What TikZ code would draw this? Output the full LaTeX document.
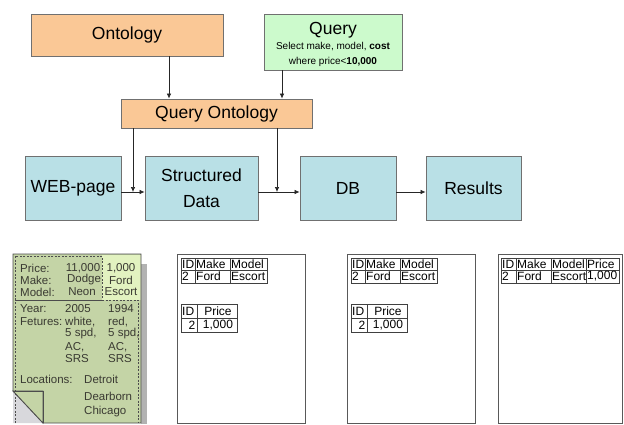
\documentclass[tikz,border=0pt]{standalone}
\usepackage{fontspec}
\setmainfont{Liberation Sans}
\usetikzlibrary{arrows.meta}
\definecolor{orng}{HTML}{FAC896}
\definecolor{qgreen}{HTML}{CCFACC}
\definecolor{tealbox}{HTML}{B9E0E6}
\definecolor{bordergray}{HTML}{707070}
\definecolor{pagegreen}{HTML}{C4D4A6}
\definecolor{pagelight}{HTML}{E2F2C0}
\definecolor{pagetext}{HTML}{3A3A32}
\definecolor{foldgray}{HTML}{D8D8DC}

\tikzset{
 box/.style={draw=bordergray, line width=0.8pt, inner sep=0pt, align=center, font=\fontsize{17.5}{24}\selectfont},
 arr/.style={draw=black!85, line width=0.7pt, -{Latex[length=5pt,width=4.5pt]}},
 doc/.style={draw=black!65, line width=0.8pt, fill=white, inner sep=0pt},
 cell/.style={draw=black!75, line width=0.6pt},
 tt/.style={inner sep=0pt, font=\fontsize{12}{12}\selectfont, anchor=west},
 ttc/.style={inner sep=0pt, font=\fontsize{12}{12}\selectfont},
 pw/.style={inner sep=0pt, font=\fontsize{11.5}{12}\selectfont, text=pagetext, anchor=west},
 pc/.style={inner sep=0pt, font=\fontsize{11.5}{12}\selectfont, text=pagetext},
 dsh/.style={draw=black!70, line width=0.6pt, dash pattern=on 2pt off 1.5pt},
 pageline/.style={draw=black!70, line width=0.8pt},
}

\newcommand\twotables[2]{%
\begin{scope}[xshift=#1]
\draw[cell] (181,258) rectangle (267,283);
\draw[cell] (181,270) -- (267,270) (195,258) -- (195,283) (230,258) -- (230,283);
\node[tt] (#2a) at (182,264) {ID};
\node[tt] (#2b) at (196,264) {Make};
\node[tt] (#2c) at (231,264) {Model};
\node[tt] (#2d) at (182,276.5) {2};
\node[tt] (#2e) at (196,276.5) {Ford};
\node[tt] (#2f) at (231,276.5) {Escort};
\draw[cell] (181,304) rectangle (237,332);
\draw[cell] (181,318) -- (237,318) (197,304) -- (197,332);
\node[tt] (#2g) at (182,311) {ID};
\node[ttc] (#2h) at (218,311) {Price};
\node[ttc,anchor=east] (#2i) at (195.5,325) {2};
\node[ttc] (#2j) at (218,325) {1,000};
\end{scope}}

\begin{document}
\begin{tikzpicture}[x=1pt,y=-1pt]
\fill[white] (0,0) rectangle (624,424);
\useasboundingbox (0,0) rectangle (624,424);

% top row
\node[box, fill=orng, minimum width=192pt, minimum height=42pt] (ont) at (127,35) {Ontology};
\node[box, fill=qgreen, minimum width=138pt, minimum height=56pt, font=\fontsize{10}{15}\selectfont] (qry) at (333,42)
 {{\fontsize{17.5}{15}\selectfont\rule{0pt}{18pt}Query}\\Select make, model, \textbf{cost}\\where price<\textbf{10,000}};
\node[box, fill=orng, minimum width=191pt, minimum height=29pt] (qo) at (216.5,113.5) {Query Ontology};

% middle row
\node[box, fill=tealbox, minimum width=96pt, minimum height=64pt] (web) at (73,188) {WEB-page};
\node[box, fill=tealbox, minimum width=113pt, minimum height=64pt, font=\fontsize{17.5}{26}\selectfont] (sd) at (201.5,188) {Structured\\Data};
\node[box, fill=tealbox, minimum width=96pt, minimum height=64pt] (db) at (348,188) {DB};
\node[box, fill=tealbox, minimum width=95pt, minimum height=64pt] (res) at (473.5,188) {Results};

\coordinate (a1) at (169,0);
\coordinate (a2) at (282,0);
\coordinate (j1) at (133,192);
\coordinate (j2) at (277,192);

\draw[arr] (ont.south -| a1) -- (qo.north -| a1);
\draw[arr] (qry.south -| a2) -- (qo.north -| a2);
\draw[arr] (qo.south -| j1) -- (j1);
\draw[arr] (qo.south -| j2) -- (j2);
\draw[arr] (web.east |- j1) -- (sd.west |- j1);
\draw[arr] (sd.east |- j1) -- (db.west |- j1);
\draw[arr] (db.east |- j1) -- (res.west |- j1);

% web page document
\fill[gray!60] (141,264) rectangle (147,424);
\fill[pagegreen] (13,254) -- (141,254) -- (141,423) -- (43,423) -- (13,391) -- cycle;
\fill[pagelight] (102,255) rectangle (140.6,300);
\fill[foldgray] (13,391) -- (43,423) -- (13,423) -- cycle;
\draw[dsh] (15,256) rectangle (102,300);
\draw[dsh] (15,423) -- (15,300) -- (138,300) -- (138,423);
\draw[pageline] (13,254) -- (141,254) -- (141,423) -- (43,423) -- (13,391) -- cycle;
\draw[pageline, fill=pagegreen] (13,391) -- (43,391) -- (43,423) -- cycle;
\draw[pageline] (13,391) -- (43,391) -- (43,423);

\node[pw] (p1) at (20,268) {Price:};
\node[pw] (p2) at (20,280) {Make:};
\node[pw] (p3) at (20,292) {Model:};
\node[pc] (p4) at (83,268) {11,000};
\node[pc] (p5) at (84,280) {Dodge};
\node[pc] (p6) at (82,292) {Neon};
\node[pc] (p7) at (121,268) {1,000};
\node[pc] (p8) at (121,280) {Ford};
\node[pc] (p9) at (121,292) {Escort};
\node[pw] (q1) at (20,309) {Year:};
\node[pw] (q2) at (65,309) {2005};
\node[pc,anchor=east] (q3) at (134,309) {1994};
\node[pw] (q4) at (20,322) {Fetures:};
\node[pw] (q5) at (65,322) {white,};
\node[pw] (q6) at (108,322) {red,};
\node[pw] (q7) at (65,334) {5 spd,};
\node[pw] (q8) at (108,334) {5 spd,};
\node[pw] (q9) at (65,347) {AC,};
\node[pw] (q10) at (108,347) {AC,};
\node[pw] (q11) at (65,359) {SRS};
\node[pw] (q12) at (108,359) {SRS};
\node[pw] (r1) at (20,379) {Locations:};
\node[pw] (r2) at (84,379) {Detroit};
\node[pw] (r3) at (84,396) {Dearborn};
\node[pw] (r4) at (84,412) {Chicago};

% table documents
\node[doc, minimum width=128pt, minimum height=169pt] (sddoc) at (241,338.5) {};
\node[doc, minimum width=128pt, minimum height=169pt] (dbdoc) at (411,338.5) {};
\node[doc, minimum width=124pt, minimum height=169pt] (resdoc) at (560,338.5) {};

\twotables{0pt}{sdt}
\twotables{170pt}{dbt}

\draw[cell] (501,258) rectangle (619,283);
\draw[cell] (501,270) -- (619,270) (516,258) -- (516,283) (551,258) -- (551,283) (586,258) -- (586,283);
\node[tt] (rt1) at (502,264) {ID};
\node[tt] (rt2) at (517,264) {Make};
\node[tt] (rt3) at (552,264) {Model};
\node[tt] (rt4) at (587,264) {Price};
\node[tt] (rt5) at (502,276.5) {2};
\node[tt] (rt6) at (517,276.5) {Ford};
\node[tt] (rt7) at (552,276.5) {Escort};
\node[tt] (rt8) at (587,276.5) {1,000};
\end{tikzpicture}
\end{document}
